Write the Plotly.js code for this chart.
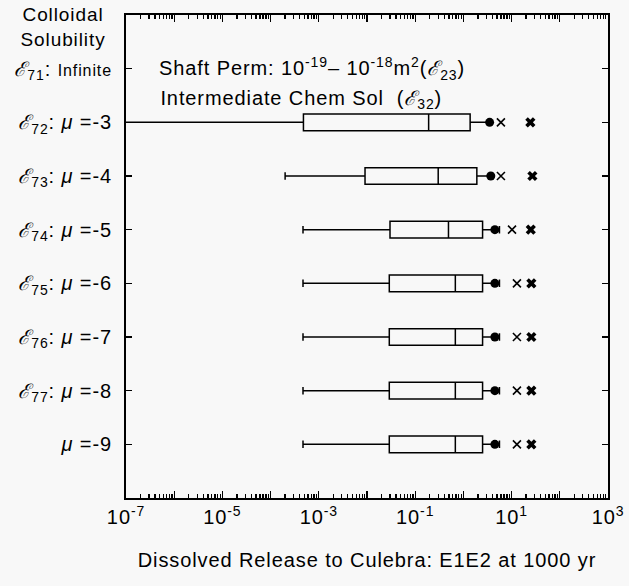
<!DOCTYPE html>
<html>
<head>
<meta charset="utf-8">
<script src="https://cdn.plot.ly/plotly-3.0.1.min.js"></script>
<style>
html,body{margin:0;padding:0;background:#f8f8f8;}
#chart{width:629px;height:586px;}
#chart text{letter-spacing:0.9px;}
</style>
</head>
<body>
<div id="chart"></div>
<script>
// Row labels (top to bottom) and their positions
const rowLabels = [
  "<i>ℰ</i><sub>71</sub>: <span style='font-size:16px'>Infinite</span>",
  "<i>ℰ</i><sub>72</sub>: <i>μ</i> =-3",
  "<i>ℰ</i><sub>73</sub>: <i>μ</i> =-4",
  "<i>ℰ</i><sub>74</sub>: <i>μ</i> =-5",
  "<i>ℰ</i><sub>75</sub>: <i>μ</i> =-6",
  "<i>ℰ</i><sub>76</sub>: <i>μ</i> =-7",
  "<i>ℰ</i><sub>77</sub>: <i>μ</i> =-8",
  "<i>μ</i> =-9"
];
const rowPos = [0, 1, 2, 3, 4, 5, 6, 7];

// Box statistics for rows with data (ε72 .. μ=-9)
const boxPos     = [1, 2, 3, 4, 5, 6, 7];
const lowerFence = [1e-8, 2.0e-4, 4.7e-4, 4.7e-4, 4.7e-4, 4.7e-4, 4.7e-4];
const q1         = [4.8e-4, 9.1e-3, 0.030, 0.029, 0.029, 0.029, 0.029];
const median     = [0.19, 0.30, 0.49, 0.68, 0.68, 0.68, 0.68];
const q3         = [1.38, 1.9, 2.5, 2.5, 2.5, 2.5, 2.5];
const upperFence = [3.5, 4.0, 5.6, 5.6, 5.6, 5.6, 5.6];
const meanVal    = [3.5, 3.7, 4.5, 4.5, 4.5, 4.5, 4.5];
const x95        = [6.0, 6.0, 10.2, 12.9, 12.9, 12.9, 12.9];
const xMax       = [24.5, 27, 25, 25.7, 25.7, 25.7, 25.7];

// X tick labels
const decadeExp = [-7, -6, -5, -4, -3, -2, -1, 0, 1, 2, 3];
const majorVals = decadeExp.map(e => Math.pow(10, e));
const majorText = decadeExp.map(e => (e % 2 !== 0) ? "10<sup>" + e + "</sup>" : "");
const allTickVals = [], allTickText = [];
decadeExp.forEach((e, i) => {
  allTickVals.push(majorVals[i]); allTickText.push(majorText[i]);
  if (e < 3) for (let m = 2; m <= 9; m++) { allTickVals.push(m * Math.pow(10, e)); allTickText.push(""); }
});

const fontFam = "Liberation Sans, Arial, sans-serif";

const traces = [
  {
    type: "box", orientation: "h",
    y: boxPos, q1: q1, median: median, q3: q3,
    lowerfence: lowerFence, upperfence: upperFence,
    width: 0.31, whiskerwidth: 0.45,
    fillcolor: "rgba(0,0,0,0)",
    line: {color: "black", width: 1.5},
    boxpoints: false, showlegend: false, hoverinfo: "skip"
  },
  {
    type: "scatter", mode: "markers", x: meanVal, y: boxPos, xaxis: "x2",
    marker: {symbol: "circle", size: 9, color: "black"},
    showlegend: false
  },
  {
    type: "scatter", mode: "markers", x: x95, y: boxPos, xaxis: "x2",
    marker: {symbol: "x-thin-open", size: 8, color: "black", line: {color: "black", width: 1.6}},
    showlegend: false
  },
  {
    type: "scatter", mode: "markers", x: xMax, y: boxPos, xaxis: "x2",
    marker: {symbol: "x", size: 9, color: "black", line: {width: 0}},
    showlegend: false
  }
];

const layout = {
  width: 629, height: 586,
  paper_bgcolor: "#f8f8f8", plot_bgcolor: "#f8f8f8",
  margin: {l: 126, r: 21, t: 15, b: 88},
  font: {family: fontFam, size: 19, color: "black"},
  showlegend: false,
  xaxis: {
    type: "log", range: [-7, 3],
    tickmode: "array", tickvals: allTickVals, ticktext: allTickText,
    ticks: "inside", ticklen: 4, tickwidth: 1.3, tickcolor: "black",
    showline: true, linecolor: "black", linewidth: 2, mirror: "ticks",
    showgrid: false, zeroline: false,
    tickfont: {family: fontFam, size: 20},
    title: {text: "Dissolved Release to Culebra: E1E2 at 1000 yr", font: {family: fontFam, size: 20}, standoff: 26}
  },
  xaxis2: {
    type: "log", range: [-7, 3], overlaying: "x", side: "bottom",
    tickmode: "array", tickvals: majorVals, ticktext: majorVals.map(() => ""),
    ticks: "inside", ticklen: 7, tickwidth: 1.3, tickcolor: "black",
    showticklabels: false, showline: false, mirror: "ticks",
    showgrid: false, zeroline: false
  },
  yaxis: {
    range: [8, -1],
    tickvals: rowPos, ticktext: rowLabels,
    ticks: "inside", ticklen: 6, tickwidth: 1.3, tickcolor: "black",
    showline: true, linecolor: "black", linewidth: 2, mirror: "ticks",
    showgrid: false, zeroline: false,
    ticklabelstandoff: 8,
    tickfont: {family: fontFam, size: 20}
  },
  annotations: [
    {
      xref: "paper", yref: "y", x: -0.13, y: -0.78,
      text: "Colloidal<br>Solubility", showarrow: false,
      xanchor: "center", yanchor: "middle",
      font: {family: fontFam, size: 19}
    },
    {
      xref: "paper", yref: "y", x: 0.094, y: 0.0, xanchor: "left", yanchor: "middle",
      text: "Shaft Perm: 10<sup>-19</sup>– 10<sup>-18</sup>m<sup>2</sup>(<i>ℰ</i><sub>23</sub>)",
      showarrow: false, font: {family: fontFam, size: 20}
    },
    {
      xref: "paper", yref: "y", x: 0.094, y: 0.58, xanchor: "left", yanchor: "middle",
      text: "Intermediate Chem Sol  (<i>ℰ</i><sub>32</sub>)",
      showarrow: false, font: {family: fontFam, size: 20}
    }
  ]
};

Plotly.newPlot("chart", traces, layout, {displayModeBar: false, staticPlot: true});
</script>
</body>
</html>
